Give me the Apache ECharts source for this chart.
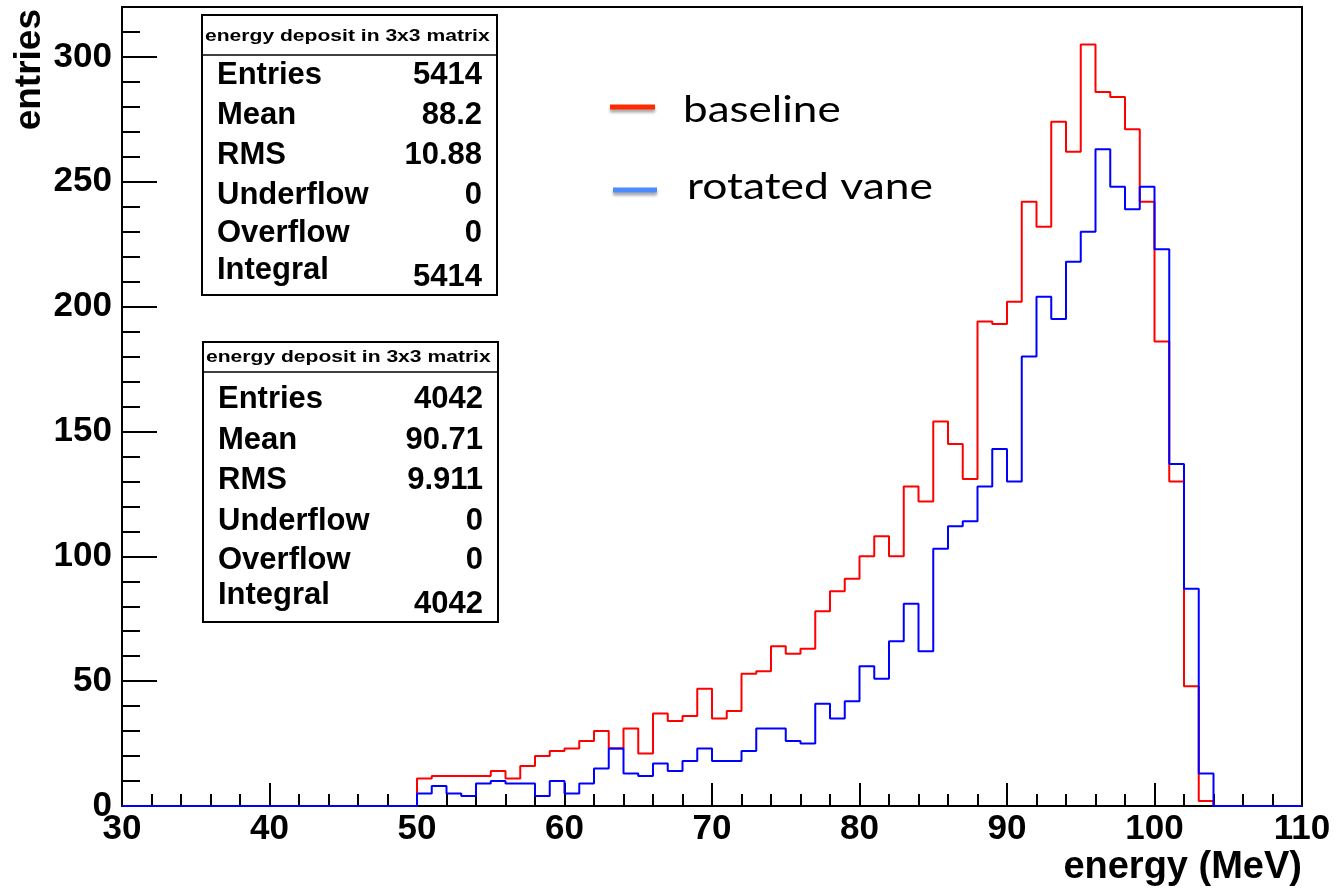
<!DOCTYPE html>
<html>
<head>
<meta charset="utf-8">
<script src="https://cdn.jsdelivr.net/npm/echarts@6/dist/echarts.min.js"></script>
<style>
  html, body { margin: 0; padding: 0; background: #fff; }
  #chart { width: 1336px; height: 890px; }
</style>
</head>
<body>
<div id="chart"></div>
<script>
// 1 MeV bins, counts for bins 50..103, every other bin in 30..110 is empty
var firstBin = 50;
var baseline = [11, 12, 12, 12, 12, 14, 11, 16, 20, 22,
                23, 26, 30, 23, 31, 21, 37, 34, 36, 47,
                35, 38, 53, 54, 64, 61, 63, 78, 86, 91,
                100, 108, 100, 128, 122, 154, 145, 131, 194, 193,
                202, 242, 232, 274, 262, 305, 286, 284, 271, 242,
                186, 130, 48, 2];
var rotated = [5, 8, 5, 4, 9, 10, 9, 9, 4, 10,
               5, 9, 15, 23, 13, 12, 17, 14, 18, 23,
               18, 18, 22, 31, 31, 26, 25, 41, 35, 42,
               56, 51, 66, 81, 62, 103, 112, 114, 128, 143,
               130, 180, 204, 195, 218, 230, 263, 248, 239, 248,
               223, 137, 87, 13];

var statLabels = ['Entries', 'Mean', 'RMS', 'Underflow', 'Overflow', 'Integral'];
var stats1 = ['5414', '88.2', '10.88', '0', '0', '5414'];
var stats2 = ['4042', '90.71', '9.911', '0', '0', '4042'];
var statTitle = 'energy deposit in 3x3 matrix';
var legendNames = ['baseline', 'rotated vane'];

var xMin = 30, xMax = 110;

function histPoints(counts) {
  var pts = [];
  for (var e = xMin; e < xMax; e++) {
    var i = e - firstBin;
    pts.push([e, (i >= 0 && i < counts.length) ? counts[i] : 0]);
  }
  pts.push([xMax, 0]);
  return pts;
}

var rootFont = 'Liberation Sans, Arial, Helvetica, sans-serif';

function txt(x, y, s, size, align, extra) {
  var el = {
    type: 'text', x: x, y: y, z: 100,
    style: {
      text: s, fill: '#000',
      fontSize: size, fontWeight: 'bold', fontFamily: rootFont,
      align: align, textAlign: align,
      verticalAlign: 'middle', textVerticalAlign: 'middle'
    }
  };
  if (extra) Object.assign(el, extra);
  return el;
}

// one ROOT stats pave
function statBox(box, values) {
  var els = [];
  els.push({ type: 'rect', z: 90,
    shape: { x: box.x, y: box.y, width: box.w, height: box.h },
    style: { fill: '#fff', stroke: '#000', lineWidth: 2 } });
  els.push({ type: 'line', z: 91,
    shape: { x1: box.x, y1: box.line, x2: box.x + box.w, y2: box.line },
    style: { stroke: '#000', lineWidth: 1.5 } });
  els.push(txt(box.x + 3, box.titleY, statTitle, 17, 'left', { scaleX: 1.24 }));
  for (var i = 0; i < statLabels.length; i++) {
    els.push(txt(box.x + 15, box.rows[i], statLabels[i], 31, 'left'));
    els.push(txt(box.x + box.w - 15, box.vals[i], values[i], 31, 'right'));
  }
  return els;
}

var graphics = []
  .concat(statBox({ x: 202, y: 15, w: 295, h: 280, line: 55, titleY: 36,
    rows: [75, 115.5, 155.5, 195, 233.5, 270],
    vals: [75, 115.5, 155.5, 195, 233.5, 277.5] }, stats1))
  .concat(statBox({ x: 203, y: 342, w: 295, h: 280, line: 372, titleY: 357.5,
    rows: [399.5, 440.5, 480.5, 521.5, 560, 595.5],
    vals: [399.5, 440.5, 480.5, 521.5, 560, 604.5] }, stats2));

// legend drawn on top of the pad
var legendFont = 'Lato, "Open Sans", sans-serif';
graphics.push({ type: 'line', z: 100,
  shape: { x1: 610, y1: 107, x2: 655, y2: 107 },
  style: { stroke: '#ff2a00', lineWidth: 5, shadowColor: 'rgba(0,0,0,0.35)', shadowBlur: 3, shadowOffsetY: 3 } });
graphics.push({ type: 'line', z: 100,
  shape: { x1: 613, y1: 190, x2: 657, y2: 190 },
  style: { stroke: '#4a8cff', lineWidth: 5, shadowColor: 'rgba(0,0,0,0.35)', shadowBlur: 3, shadowOffsetY: 3 } });
graphics.push({ type: 'text', x: 683, y: 110, z: 100, scaleX: 1.19,
  style: { text: legendNames[0], fill: '#000', fontSize: 37, fontFamily: legendFont,
    align: 'left', textAlign: 'left', verticalAlign: 'middle', textVerticalAlign: 'middle' } });
graphics.push({ type: 'text', x: 687, y: 187, z: 100, scaleX: 1.2,
  style: { text: legendNames[1], fill: '#000', fontSize: 37, fontFamily: legendFont,
    align: 'left', textAlign: 'left', verticalAlign: 'middle', textVerticalAlign: 'middle' } });

// axis titles
graphics.push(txt(1302, 868, 'energy (MeV)', 38, 'right'));
graphics.push(txt(30, 9, 'entries', 37, 'right', { rotation: Math.PI / 2 }));

var chart = echarts.init(document.getElementById('chart'), null, { renderer: 'canvas' });

var tickStyle = { color: '#000', width: 2 };
var labelStyle = { color: '#000', fontSize: 35, fontWeight: 'bold', fontFamily: rootFont };

var option = {
  animation: false,
  backgroundColor: '#fff',
  grid: { left: 122, right: 34, top: 7, bottom: 84, show: true, borderColor: '#000', borderWidth: 2, backgroundColor: 'transparent' },
  xAxis: {
    type: 'value', min: xMin, max: xMax, interval: 10,
    axisLine: { lineStyle: tickStyle },
    axisTick: { inside: true, length: 23, lineStyle: tickStyle },
    minorTick: { show: true, splitNumber: 5, length: 12, lineStyle: tickStyle },
    splitLine: { show: false },
    axisLabel: Object.assign({ margin: 6 }, labelStyle)
  },
  yAxis: [{
    type: 'value', min: 0, max: 320, interval: 50,
    axisLine: { show: true, lineStyle: tickStyle },
    axisTick: { show: true, inside: true, length: 35, lineStyle: tickStyle },
    splitLine: { show: false },
    axisLabel: Object.assign({ margin: 10, showMaxLabel: false }, labelStyle)
  }, {
    type: 'value', min: 0, max: 320, interval: 10, position: 'left',
    axisLine: { show: false },
    axisTick: { show: true, inside: true, length: 18, lineStyle: tickStyle },
    splitLine: { show: false },
    axisLabel: { show: false }
  }],
  series: [{
    name: legendNames[0], type: 'line', step: 'end', symbol: 'none', clip: false,
    data: histPoints(baseline),
    lineStyle: { color: '#ff0000', width: 2 }
  }, {
    name: legendNames[1], type: 'line', step: 'end', symbol: 'none', clip: false,
    data: histPoints(rotated),
    lineStyle: { color: '#0000ff', width: 2 }
  }],
  graphic: graphics
};

chart.setOption(option);
</script>
</body>
</html>
